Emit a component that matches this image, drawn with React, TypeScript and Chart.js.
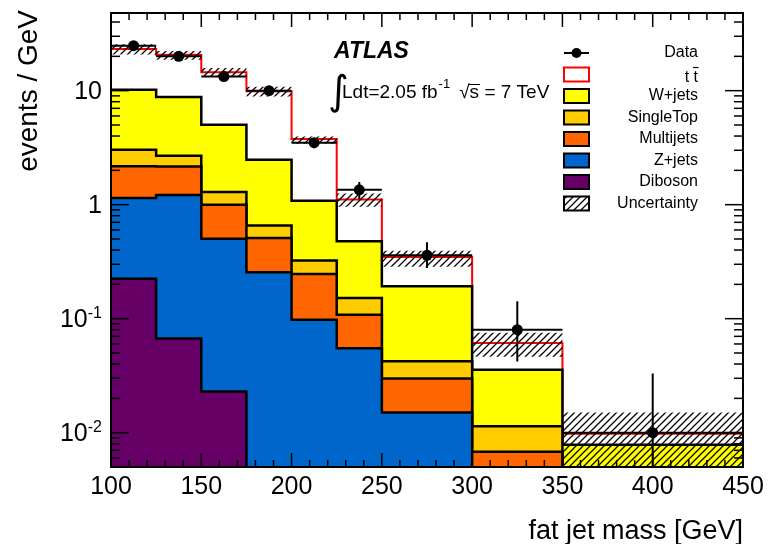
import React, { useEffect, useRef } from "react";
import { Chart, registerables } from "chart.js";
Chart.register(...registerables);

// ---------- data ----------
const binEdges = [100, 125, 150, 175, 200, 225, 250, 300, 350, 450];
const dataValues = [24.8, 20.0, 13.3, 10.0, 3.5, 1.35, 0.36, 0.08, 0.01];
const dataErrLow = [23.8, 19.1, 12.6, 9.4, 3.13, 1.12, 0.278, 0.0422, 0];
const dataErrHigh = [25.8, 20.9, 14.0, 10.6, 3.87, 1.58, 0.467, 0.142, 0.033];
const diboson = [0.224, 0.067, 0.023, 0, 0, 0, 0, 0, 0];
const zjets = [0.92, 1.15, 0.48, 0.255, 0.098, 0.055, 0.015, 0, 0];
const multijets = [1.025, 0.95, 0.497, 0.255, 0.149, 0.053, 0.0149, 0.0068, 0];
const singleTop = [0.87, 0.52, 0.29, 0.148, 0.076, 0.044, 0.0124, 0.0046, 0];
const wjets = [7.16, 6.11, 3.74, 1.82, 0.757, 0.326, 0.15, 0.0243, 0.00785];
const ttbar = [13.0, 11.9, 9.47, 7.38, 2.69, 0.632, 0.156, 0.0255, 0.00195];
const uncLow = [20.8, 18.7, 13.2, 8.9, 3.43, 0.96, 0.286, 0.0464, 0];
const uncHigh = [25.5, 22.3, 15.8, 10.8, 3.97, 1.25, 0.395, 0.0754, 0.015];

const xTickLabels = [100, 150, 200, 250, 300, 350, 400, 450];
const yTickValues = [0.01, 0.1, 1, 10];
const yTickBase = ["10", "10", "1", "10"];
const yTickExp = ["-2", "-1", "", ""];

const legendLabels = ["Data", "t t\u0304", "W+jets", "SingleTop", "Multijets", "Z+jets", "Diboson", "Uncertainty"];
const stackColors = ["#660066", "#0066cc", "#ff6600", "#ffcc00", "#ffff00", "#ffffff"];

const FLOOR = 1e-4;
const FONT = '"Liberation Sans", Arial, Helvetica, sans-serif';

function cumulate(parts: number[][]) {
  const out: number[][] = [];
  let run = parts[0].map(() => 0);
  for (const p of parts) {
    run = run.map((r, i) => r + p[i]);
    out.push(run.slice());
  }
  return out;
}

function stepPoints(vals: number[]) {
  return binEdges.map((e, i) => ({ x: e, y: Math.max(vals[Math.min(i, vals.length - 1)], FLOOR) }));
}

function makeHatch(main: CanvasRenderingContext2D) {
  const s = 7;
  const c = document.createElement("canvas");
  c.width = s;
  c.height = s;
  const g = c.getContext("2d")!;
  g.strokeStyle = "#000";
  g.lineWidth = 1.25;
  g.beginPath();
  g.moveTo(0, s);
  g.lineTo(s, 0);
  g.moveTo(-1, 1);
  g.lineTo(1, -1);
  g.moveTo(s - 1, s + 1);
  g.lineTo(s + 1, s - 1);
  g.stroke();
  return main.createPattern(c, "repeat")!;
}

export default function App() {
  const ref = useRef<HTMLCanvasElement>(null);

  useEffect(() => {
    const canvas = ref.current!;
    const mctx = canvas.getContext("2d")!;
    const hatch = makeHatch(mctx);

    const cums = cumulate([diboson, zjets, multijets, singleTop, wjets, ttbar]);
    const centers = binEdges.slice(0, -1).map((e, i) => (e + binEdges[i + 1]) / 2);

    const stackDatasets = cums
      .map((vals, k) => ({
        type: "line",
        data: stepPoints(vals),
        stepped: "before",
        fill: "start",
        backgroundColor: stackColors[k],
        borderColor: k === 5 ? "#ff0000" : "#000000",
        borderWidth: k === 5 ? 2 : 2.5,
        pointRadius: 0,
        order: 5 + k,
      }))
      .reverse();

    const yErr: any[] = [];
    const xErr: any[] = [];
    centers.forEach((c, i) => {
      yErr.push({ x: c, y: Math.max(dataErrLow[i], FLOOR) }, { x: c, y: dataErrHigh[i] }, { x: c, y: null });
      xErr.push({ x: binEdges[i], y: dataValues[i] }, { x: binEdges[i + 1], y: dataValues[i] }, { x: binEdges[i + 1], y: null });
    });

    const datasets: any[] = [
      ...stackDatasets, // indices 0..5
      {
        type: "line",
        data: stepPoints(uncHigh),
        stepped: "before",
        fill: 7,
        backgroundColor: hatch,
        borderWidth: 0,
        borderColor: "rgba(0,0,0,0)",
        pointRadius: 0,
        order: 4,
      },
      {
        type: "line",
        data: stepPoints(uncLow),
        stepped: "before",
        fill: false,
        borderWidth: 0,
        borderColor: "rgba(0,0,0,0)",
        pointRadius: 0,
        order: 4,
      },
      {
        type: "line",
        data: xErr,
        spanGaps: false,
        fill: false,
        borderColor: "#000",
        borderWidth: 2,
        pointRadius: 0,
        order: 2,
      },
      {
        type: "line",
        data: yErr,
        spanGaps: false,
        fill: false,
        borderColor: "#000",
        borderWidth: 2,
        pointRadius: 0,
        order: 2,
      },
      {
        type: "line",
        data: centers.map((c, i) => ({ x: c, y: dataValues[i] })),
        showLine: false,
        fill: false,
        pointRadius: 5.5,
        pointBackgroundColor: "#000",
        pointBorderColor: "#000",
        pointBorderWidth: 0,
        order: 0,
      },
    ];

    const decor = {
      id: "decor",
      afterDatasetsDraw(chart: any) {
        const { ctx, chartArea: a, scales } = chart;
        const xs = scales.x;
        const ys = scales.y;
        ctx.save();
        ctx.strokeStyle = "#000";
        ctx.lineWidth = 1.5;
        const seg = (x1: number, y1: number, x2: number, y2: number) => {
          ctx.beginPath();
          ctx.moveTo(x1, y1);
          ctx.lineTo(x2, y2);
          ctx.stroke();
        };
        for (let v = xs.min; v <= xs.max + 0.001; v += 10) {
          const px = xs.getPixelForValue(v);
          const len = Math.round(v) % 50 === 0 ? 14 : 7;
          seg(px, a.bottom, px, a.bottom - len);
          seg(px, a.top, px, a.top + len);
        }
        for (let d = -3; d <= 2; d++) {
          for (let m = 1; m <= 9; m++) {
            const v = m * Math.pow(10, d);
            if (v < ys.min || v > ys.max) continue;
            const py = ys.getPixelForValue(v);
            const len = m === 1 ? 18 : 9;
            seg(a.left, py, a.left + len, py);
            seg(a.right, py, a.right - len, py);
          }
        }
        ctx.lineWidth = 2;
        ctx.strokeRect(a.left, a.top, a.right - a.left, a.bottom - a.top);

        // tick labels
        ctx.fillStyle = "#000";
        ctx.font = `25px ${FONT}`;
        ctx.textAlign = "center";
        ctx.textBaseline = "alphabetic";
        xTickLabels.forEach((v) => {
          ctx.fillText(String(v), xs.getPixelForValue(v), a.bottom + 27);
        });
        const rightX = a.left - 9;
        yTickValues.forEach((v, i) => {
          const py = ys.getPixelForValue(v);
          let x = rightX;
          if (yTickExp[i]) {
            ctx.font = `16px ${FONT}`;
            ctx.textAlign = "right";
            ctx.textBaseline = "alphabetic";
            ctx.fillText(yTickExp[i], x, py - 1);
            x -= ctx.measureText(yTickExp[i]).width;
          }
          ctx.font = `25px ${FONT}`;
          ctx.textAlign = "right";
          ctx.textBaseline = "middle";
          ctx.fillText(yTickBase[i], x, py + 1);
        });

        // axis titles
        ctx.font = `27px ${FONT}`;
        ctx.textAlign = "right";
        ctx.textBaseline = "alphabetic";
        ctx.fillText("fat jet mass [GeV]", a.right, 539);
        ctx.save();
        ctx.translate(37, 10);
        ctx.rotate(-Math.PI / 2);
        ctx.font = `28px ${FONT}`;
        ctx.textAlign = "right";
        ctx.fillText("events / GeV", 0, 0);
        ctx.restore();

        // ATLAS label
        ctx.textAlign = "left";
        ctx.font = `italic bold 23px ${FONT}`;
        ctx.fillText("ATLAS", 334, 58);
        ctx.font = `40px "DejaVu Sans", sans-serif`;
        ctx.fillText("\u222b", 328, 104);
        ctx.font = `19px ${FONT}`;
        const t1 = "Ldt=2.05 fb";
        ctx.fillText(t1, 342, 98);
        let cx = 342 + ctx.measureText(t1).width;
        ctx.font = `13px ${FONT}`;
        ctx.fillText("-1", cx + 1, 88);
        cx += ctx.measureText("-1").width + 10;
        ctx.font = `19px ${FONT}`;
        ctx.fillText("\u221a", cx, 98);
        const sq = ctx.measureText("\u221a").width;
        const sx = cx + sq;
        ctx.fillText("s", sx, 98);
        const sw = ctx.measureText("s").width;
        ctx.lineWidth = 1;
        seg(sx - 1, 84.5, sx + sw + 1, 84.5);
        ctx.fillText(" = 7 TeV", sx + sw, 98);

        // legend
        const rows = [53, 74.5, 96, 117.5, 139, 160.5, 182, 203.5];
        const bx = 564;
        const bw = 25;
        const bh = 14;
        const fills: any[] = [null, "#ffffff", "#ffff00", "#ffcc00", "#ff6600", "#0066cc", "#660066", hatch];
        legendLabels.forEach((lab, i) => {
          const y = rows[i];
          if (i === 0) {
            ctx.lineWidth = 2;
            ctx.strokeStyle = "#000";
            seg(bx, y, bx + bw, y);
            ctx.beginPath();
            ctx.arc(bx + bw / 2, y, 5, 0, Math.PI * 2);
            ctx.fillStyle = "#000";
            ctx.fill();
          } else {
            ctx.fillStyle = fills[i];
            ctx.fillRect(bx, y - bh / 2, bw, bh);
            ctx.lineWidth = 2;
            ctx.strokeStyle = i === 1 ? "#ff0000" : "#000";
            ctx.strokeRect(bx, y - bh / 2, bw, bh);
          }
          ctx.fillStyle = "#000";
          ctx.strokeStyle = "#000";
          ctx.font = `16px ${FONT}`;
          ctx.textAlign = "right";
          ctx.textBaseline = "middle";
          if (lab.includes("\u0304")) {
            const plain = lab.replace("\u0304", "");
            ctx.fillText(plain, 698, y + 3);
            const tw = ctx.measureText("t").width;
            ctx.lineWidth = 1.2;
            seg(698 - tw - 0.5, y - 7, 698 + 0.5, y - 7);
          } else {
            ctx.fillText(lab, 698, y);
          }
        });
        ctx.restore();
      },
    };

    const chart = new Chart(canvas, {
      type: "line",
      data: { datasets },
      options: {
        animation: false,
        responsive: false,
        events: [],
        layout: { padding: { left: 111, right: 25, top: 13, bottom: 77 } },
        plugins: { legend: { display: false }, tooltip: { enabled: false } },
        scales: {
          x: { type: "linear", min: 100, max: 450, display: false },
          y: { type: "logarithmic", min: 0.005, max: 48, display: false },
        },
      },
      plugins: [decor],
    } as any);
    return () => chart.destroy();
  }, []);

  return (
    <div style={{ position: "absolute", left: 0, top: 0, width: 768, height: 544, background: "#fff" }}>
      <canvas ref={ref} width={768} height={544} style={{ width: 768, height: 544, display: "block" }} />
    </div>
  );
}
